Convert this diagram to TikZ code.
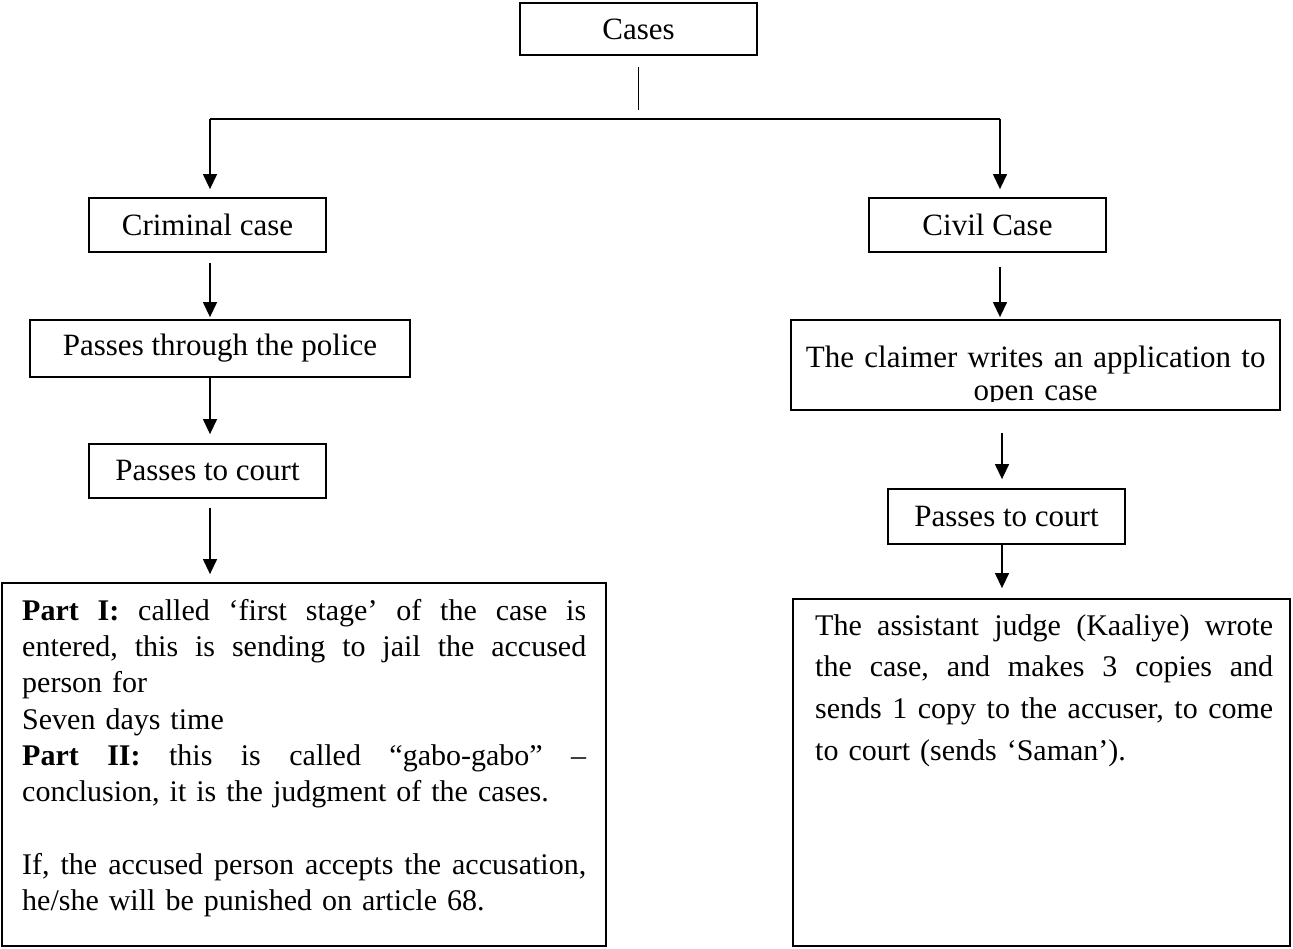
\documentclass[tikz,border=0pt]{standalone}
\usepackage{fontspec}
\setmainfont{Liberation Serif}
\usetikzlibrary{arrows.meta}
\newcommand\boxfont{\fontsize{31pt}{36pt}\selectfont}
\newcommand\partfont{\fontsize{30pt}{36.3pt}\selectfont}
\newcommand\civfont{\fontsize{30pt}{41.7pt}\selectfont}
\newcommand\appfont{\fontsize{31pt}{33pt}\selectfont}
\newcommand\jline[2]{\leavevmode\hbox to #1{#2}}
\begin{document}
\begin{tikzpicture}[x=1pt,y=-1pt,
  box/.style={draw, line width=1.8pt, inner sep=0pt, font=\boxfont},
  conn/.style={line width=1.3pt},
  arr/.style={conn, -{Triangle[width=14pt,length=15pt]}},
  txt/.style={inner sep=0pt, anchor=north west, align=left}]
\useasboundingbox (0,0) rectangle (1293,949);

% boxes
\node[box, minimum width=237pt, minimum height=52pt] (cases) at (638.5,29) {Cases};
\node[box, minimum width=237pt, minimum height=54pt] (crim) at (207.5,225) {Criminal case};
\node[box, minimum width=380pt, minimum height=57pt] (police) at (220,348.5) {Passes through the police};
\node[box, minimum width=237pt, minimum height=54pt] (courtL) at (207.5,471) {Passes to court};
\node[box, minimum width=604pt, minimum height=363pt] (partI) at (304,764.5) {};
\node[box, minimum width=237pt, minimum height=54pt] (civil) at (987.5,225) {Civil Case};
\node[box, minimum width=489pt, minimum height=90pt] (app) at (1035.5,365) {};
\node[box, minimum width=237pt, minimum height=55pt] (courtR) at (1006.5,516.5) {Passes to court};
\node[box, minimum width=497pt, minimum height=347pt] (civtext) at (1041.5,772.5) {};

% texts inside the large boxes
\node[txt, text width=564pt, font=\partfont] (partItext) at (22,595) {\rule{0pt}{25pt}%
\jline{564pt}{\textbf{Part}\hfill\textbf{I:}\hfill called\hfill ‘first\hfill stage’\hfill of\hfill the\hfill case\hfill is}\\
\jline{564pt}{entered,\hfill this\hfill is\hfill sending\hfill to\hfill jail\hfill the\hfill accused}\\
person for\\
Seven days time\\
\jline{564pt}{\textbf{Part}\hfill\textbf{II:}\hfill this\hfill is\hfill called\hfill “gabo-gabo”\hfill –}\\
conclusion, it is the judgment of the cases.\\[36.3pt]
\jline{564pt}{If,\hfill the\hfill accused\hfill person\hfill accepts\hfill the\hfill accusation,}\\
he/she will be punished on article 68.\par};

\node[txt, text width=460pt, font=\civfont] (civtexttext) at (815,610) {\rule{0pt}{25pt}%
\jline{458pt}{The\hfill assistant\hfill judge\hfill (Kaaliye)\hfill wrote}\\
\jline{458pt}{the\hfill case,\hfill and\hfill makes\hfill 3\hfill copies\hfill and}\\
\jline{458pt}{sends\hfill 1\hfill copy\hfill to\hfill the\hfill accuser,\hfill to\hfill come}\\
to court (sends ‘Saman’).\par};

\begin{scope}
\clip (791,320) rectangle (1280,402);
\node[txt, text width=489pt, align=center, font=\appfont] (apptext) at (791,342) {\rule{0pt}{25pt}The claimer writes an application to\\ open case\par};
\end{scope}

% connectors
\coordinate (colL) at (210,0);
\coordinate (colR) at (1000,0);
\coordinate (colR2) at (1002,0);
\coordinate (hl) at (210,119);
\coordinate (hr) at (1000,119);
\coordinate (stemtop) at (638,67);
\coordinate (stembot) at (638,110);
\draw[line width=1pt] (stemtop) -- (stembot);
\draw[conn] (hl) -- (hr);
\draw[arr, shorten >=8pt] (hl) -- (hl |- crim.north);
\draw[arr, shorten >=8pt] (hr) -- (hr |- civil.north);
\draw[arr, shorten <=10pt, shorten >=2pt] (crim.south -| colL) -- (police.north -| colL);
\draw[arr, shorten >=9pt] (police.south -| colL) -- (courtL.north -| colL);
\draw[arr, shorten <=9pt, shorten >=8pt] (courtL.south -| colL) -- (partI.north -| colL);
\draw[arr, shorten <=14pt, shorten >=2pt] (civil.south -| colR) -- (app.north -| colR);
\draw[arr, shorten <=22pt, shorten >=9pt] (app.south -| colR2) -- (courtR.north -| colR2);
\draw[arr, shorten >=10pt] (courtR.south -| colR2) -- (civtext.north -| colR2);
\end{tikzpicture}
\end{document}
